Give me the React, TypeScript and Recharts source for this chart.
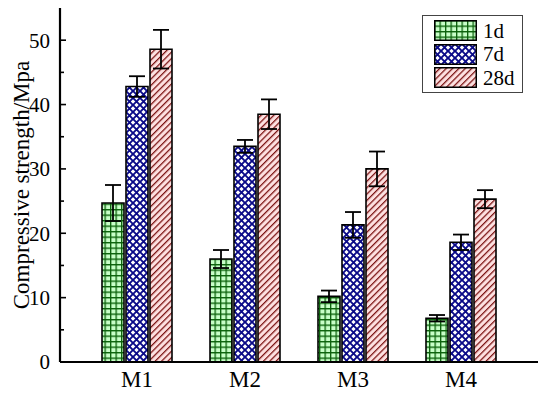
import { BarChart, Bar, XAxis, YAxis, ErrorBar } from "recharts";

const categories = ["M1", "M2", "M3", "M4"];
const day1 = [24.7, 16.0, 10.2, 6.8];
const day1Err = [2.8, 1.4, 0.9, 0.5];
const day7 = [42.8, 33.5, 21.3, 18.6];
const day7Err = [1.6, 1.0, 2.0, 1.2];
const day28 = [48.6, 38.5, 30.0, 25.3];
const day28Err = [3.0, 2.3, 2.7, 1.4];
const yTicks = [0, 5, 10, 15, 20, 25, 30, 35, 40, 45, 50];

const FONT = '"Liberation Serif", "Times New Roman", serif';

const chartData = categories.map((name, i) => ({
  name,
  d1: day1[i],
  e1: day1Err[i],
  d7: day7[i],
  e7: day7Err[i],
  d28: day28[i],
  e28: day28Err[i],
}));

const series = [
  { key: "d1", err: "e1", label: "1d", fill: "url(#pGrid)" },
  { key: "d7", err: "e7", label: "7d", fill: "url(#pCross)" },
  { key: "d28", err: "e28", label: "28d", fill: "url(#pHatch)" },
];

function YTick(props: any) {
  const { x, y, payload } = props;
  const major = payload.value % 10 === 0;
  return (
    <g>
      <line x1={x} x2={x + (major ? 6 : 4)} y1={y} y2={y} stroke="#000" strokeWidth={1.6} />
      {major && (
        <text x={x - 10} y={y} dy="0.35em" textAnchor="end" fontFamily={FONT} fontSize={21} fill="#000">
          {payload.value}
        </text>
      )}
    </g>
  );
}

function LegendBox() {
  return (
    <div
      style={{
        border: "1px solid #444",
        background: "#fff",
        width: 88,
        padding: "3px 0 2px 11px",
        fontFamily: FONT,
        fontSize: 21,
        lineHeight: "22px",
      }}
    >
      {series.map((s) => (
        <div key={s.key} style={{ display: "flex", alignItems: "center", height: 23.5 }}>
          <svg width={43} height={21} style={{ display: "block" }}>
            <rect x={0.75} y={0.75} width={41.5} height={19.5} fill={s.fill} stroke="#000" strokeWidth={1.5} />
          </svg>
          <span style={{ marginLeft: 6, color: "#000" }}>{s.label}</span>
        </div>
      ))}
    </div>
  );
}

export default function App() {
  return (
    <div style={{ position: "absolute", left: 0, top: 0, width: 550, height: 393, background: "#fff" }}>
      <svg width={0} height={0} style={{ position: "absolute" }}>
        <defs>
          <pattern id="pGrid" width={5.5} height={5.5} patternUnits="userSpaceOnUse">
            <rect width={5.5} height={5.5} fill="#c8ffc8" />
            <path d="M0 0.6 H5.5 M0.6 0 V5.5" stroke="#0a600a" strokeWidth={1.4} />
          </pattern>
          <pattern id="pCross" width={7} height={7} patternUnits="userSpaceOnUse">
            <rect width={7} height={7} fill="#fff" />
            <path d="M-1 -1 L8 8 M-1 8 L8 -1" stroke="#0a0a88" strokeWidth={1.9} />
          </pattern>
          <pattern id="pHatch" width={4.5} height={4.5} patternUnits="userSpaceOnUse" patternTransform="rotate(45)">
            <rect width={4.5} height={4.5} fill="#fde0e0" />
            <line x1={0} y1={0} x2={0} y2={4.5} stroke="#7a1010" strokeWidth={2.5} />
          </pattern>
        </defs>
      </svg>
      <BarChart
        width={550}
        height={393}
        data={chartData}
        margin={{ top: 8, right: 12, bottom: 0, left: 0 }}
        barCategoryGap={19}
        barGap={2}
      >
        <XAxis
          dataKey="name"
          padding={{ left: 23, right: 23 }}
          height={31}
          tickLine={false}
          tickSize={0}
          tickMargin={9}
          axisLine={{ stroke: "#000", strokeWidth: 2.2 }}
          tick={{ fill: "#000", fontFamily: FONT, fontSize: 23 }}
        />
        <XAxis xAxisId="top" dataKey="name" orientation="top" height={0} tick={false} tickLine={false} axisLine={{ stroke: "#000", strokeWidth: 2.2 }} />
        <YAxis
          domain={[0, 55]}
          ticks={yTicks}
          width={60}
          tickSize={0}
          tickMargin={0}
          tickLine={false}
          interval={0}
          axisLine={{ stroke: "#000", strokeWidth: 2.2 }}
          tick={<YTick />}
          label={{
            value: "Compressive strength/Mpa",
            angle: -90,
            position: "center",
            dx: -9,
            style: { fontFamily: FONT, fontSize: 23, fill: "#000" },
          }}
        />
        <YAxis yAxisId="right" orientation="right" width={0} tick={false} tickLine={false} axisLine={{ stroke: "#000", strokeWidth: 2.2 }} />
        {series.map((s) => (
          <Bar
            key={s.key}
            dataKey={s.key}
            name={s.label}
            fill={s.fill}
            stroke="#000"
            strokeWidth={1.6}
            isAnimationActive={false}
          >
            <ErrorBar dataKey={s.err} width={8} strokeWidth={1.8} stroke="#000" direction="y" />
          </Bar>
        ))}
      </BarChart>
      <div style={{ position: "absolute", left: 422, top: 15 }}>
        <LegendBox />
      </div>
    </div>
  );
}
